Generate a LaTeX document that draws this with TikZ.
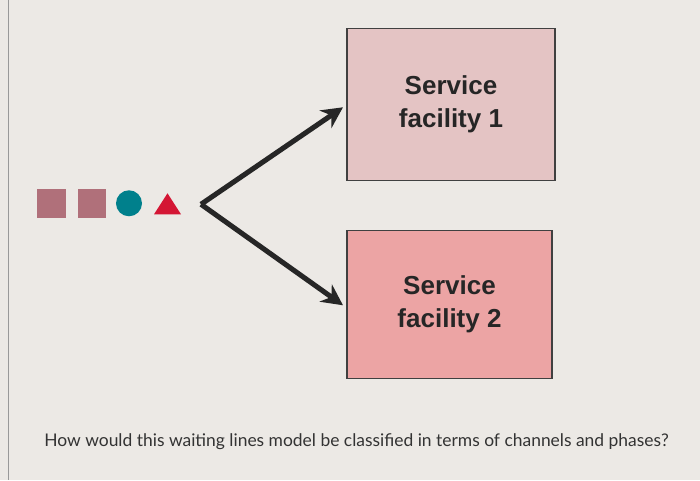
\documentclass[tikz,border=0pt]{standalone}
\usepackage{fontspec}
\setmainfont{Liberation Sans}
\newfontfamily\qfont{Lato}
\usetikzlibrary{arrows.meta,positioning}
\definecolor{bgscreen}{RGB}{236,233,229}
\definecolor{facone}{RGB}{228,196,196}
\definecolor{factwo}{RGB}{236,164,164}
\definecolor{custsq}{RGB}{176,112,122}
\definecolor{custci}{RGB}{0,128,140}
\definecolor{custtr}{RGB}{212,22,52}

\begin{document}
\begin{tikzpicture}[x=0.025cm,y=-0.025cm,
  facility/.style={draw=black!75,line width=0.8pt,minimum width=5.2cm,minimum height=3.8cm,
    font=\fontsize{18.5}{23.5}\selectfont\bfseries,align=center,text=black!85},
  flow/.style={line width=3.6pt,black!85,-{Stealth[length=15pt,width=15pt]}}]
  % 背景
  \fill[bgscreen] (0,0) rectangle (700,480);
  \draw[black!40] (8,0) -- (8,480);

  % サービス施設
  \node[facility,fill=facone] (fac1) at (451,104) {Service\\facility 1};
  \node[facility,fill=factwo,minimum width=5.125cm,minimum height=3.7cm] (fac2) at (449.5,304) {Service\\facility 2};

  % 待ち行列
  \node[fill=custsq,minimum size=0.72cm,inner sep=0pt] (c1) at (51.5,203) {};
  \node[fill=custsq,minimum size=0.72cm,inner sep=0pt,right=0.28cm of c1] (c2) {};
  \node[circle,fill=custci,minimum size=0.65cm,inner sep=0pt] (c3) at (129,203) {};
  \fill[custtr] (154,214) -- (181,214) -- (167.5,193) -- cycle;

  % 分岐
  \coordinate (split) at (201,204);
  \coordinate (in1) at (343,107);
  \coordinate (in2) at (343,305);
  \draw[flow] (split) -- (in1);
  \draw[flow] (split) -- (in2);

  % 質問
  \node[font=\qfont\fontsize{12.4}{15}\selectfont,text=black!80] (question) at (356.5,441) {How would this waiting lines model be classified in terms of channels and phases?};
\end{tikzpicture}
\end{document}
